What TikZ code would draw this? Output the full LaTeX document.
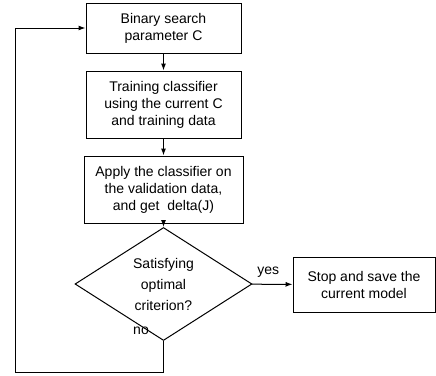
\documentclass[tikz,border=0pt]{standalone}
\usepackage{fontspec}
\setmainfont{Liberation Sans}
\usetikzlibrary{shapes.geometric,arrows.meta}

\begin{document}
\begin{tikzpicture}[
            x=1pt, y=-1pt,
            font=\fontsize{14}{17}\selectfont,
            line width=1pt,
            block/.style={rectangle, draw, align=center, inner sep=2pt},
            decision/.style={diamond, draw, align=center, inner sep=0pt, minimum width=177pt, minimum height=86pt, font=\fontsize{14}{21}\selectfont},
            flow/.style={-{Latex[length=7pt, width=5pt]}}
        ]
            \useasboundingbox (0,0) rectangle (436,375);
            \node[block, minimum width=155pt, minimum height=50pt] (search) at (163.5, 28) {Binary search\\parameter C};
            \node[block, minimum width=155pt, minimum height=67pt] (train) at (163.5, 104.5) {Training classifier\\using the current C\\and training data};
            \node[block, minimum width=159pt, minimum height=67pt] (apply) at (163.5, 189.5) {Apply the classifier on\\the validation data,\\and get \ delta(J)};
            \node[decision] (check) at (163.5, 284) {Satisfying\\optimal\\criterion?};
            \node[block, minimum width=142pt, minimum height=55pt] (stop) at (364, 284.5) {Stop and save the\\current model};
            \coordinate (down) at (163.5, 372);
            \coordinate (corner) at (15, 372);
            \coordinate (top) at (15, 28);

            \draw[flow] (search)--(train);
            \draw[flow] (train)--(apply);
            \draw[flow] (apply)--(check);
            \draw[flow] (check)--(stop) node[pos=0.4, above=3pt] {yes};
            \draw[flow] (check.south)--(down)--(corner)--(top)--(search.west);
            \node (no) at (141, 331) {no};
        \end{tikzpicture}
\end{document}
